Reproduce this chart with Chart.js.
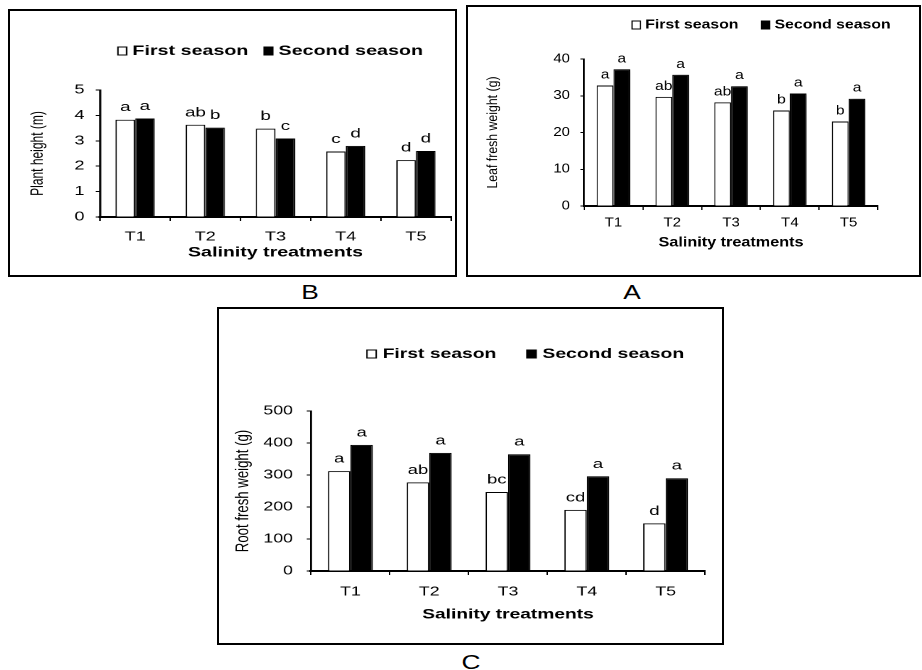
<!DOCTYPE html>
<html>
<head>
<meta charset="utf-8">
<script src="https://cdn.jsdelivr.net/npm/chart.js@4.4.1/dist/chart.umd.min.js"></script>
<style>
  body { margin: 0; background: #fff; width: 922px; height: 670px; position: relative; overflow: hidden; font-family: "Liberation Sans", Arial, sans-serif; }
  .frame { position: absolute; border: 2px solid #000; box-sizing: border-box; }
  .stretch { position: absolute; transform-origin: 0 0; }
  .tag { position: absolute; font-size: 21px; line-height: 1; transform: translateX(-50%) scaleX(1.25); }
</style>
</head>
<body>
<div class="frame" style="left:8px;top:9px;width:449px;height:268px"></div>
<div class="frame" style="left:466px;top:5px;width:455px;height:272px"></div>
<div class="frame" style="left:217px;top:307px;width:507px;height:338px"></div>

<div class="stretch" style="left:8px;top:9px;transform:scaleX(1.4484)"><canvas id="chartB" width="310" height="268"></canvas></div>
<div class="stretch" style="left:466px;top:5px;transform:scaleX(1.2005)"><canvas id="chartA" width="379" height="272"></canvas></div>
<div class="stretch" style="left:217px;top:307px;transform:scaleX(1.4202)"><canvas id="chartC" width="357" height="338"></canvas></div>

<div class="tag" style="left:310px;top:281px">B</div>
<div class="tag" style="left:632px;top:281px">A</div>
<div class="tag" style="left:471px;top:651px">C</div>

<script>
const treatments = ['T1', 'T2', 'T3', 'T4', 'T5']
const seasons = ['First season', 'Second season']

// B - plant height (m)
const heightFirst = [3.83, 3.63, 3.48, 2.58, 2.24]
const heightSecond = [3.88, 3.52, 3.09, 2.80, 2.60]
const heightLettersFirst = ['a', 'ab', 'b', 'c', 'd']
const heightLettersSecond = ['a', 'b', 'c', 'd', 'd']

// A - leaf fresh weight (g)
const leafFirst = [32.8, 29.7, 28.2, 26.0, 23.0]
const leafSecond = [37.2, 35.7, 32.6, 30.6, 29.2]
const leafLettersFirst = ['a', 'ab', 'ab', 'b', 'b']
const leafLettersSecond = ['a', 'a', 'a', 'a', 'a']

// C - root fresh weight (g)
const rootFirst = [312, 277, 247, 191, 149]
const rootSecond = [394, 369, 365, 296, 290]
const rootLettersFirst = ['a', 'ab', 'bc', 'cd', 'd']
const rootLettersSecond = ['a', 'a', 'a', 'a', 'a']

const family = '"Liberation Sans", Arial, sans-serif'

const seasonLegend = {
  id: 'seasonLegend',
  afterDraw(chart, args, o) {
    const ctx = chart.ctx
    const area = chart.chartArea
    let x = area.left + o.dx
    const y = area.top + o.dy
    ctx.save()
    ctx.font = `bold ${o.size}px ${family}`
    ctx.textBaseline = 'middle'
    ctx.textAlign = 'left'
    chart.data.datasets.forEach(ds => {
      ctx.fillStyle = ds.backgroundColor
      ctx.fillRect(x, y - o.boxH / 2, o.boxW, o.boxH)
      ctx.strokeStyle = '#000'
      ctx.lineWidth = 1
      ctx.strokeRect(x, y - o.boxH / 2, o.boxW, o.boxH)
      x += o.boxW + o.textGap
      ctx.fillStyle = '#000'
      ctx.fillText(ds.label, x, y)
      x += ctx.measureText(ds.label).width + o.itemGap
    })
    ctx.restore()
  }
}

// significance letters above each bar
const barLetters = {
  id: 'barLetters',
  afterDatasetsDraw(chart, args, o) {
    const ctx = chart.ctx
    ctx.save()
    ctx.font = `13px ${family}`
    ctx.fillStyle = '#000'
    ctx.textAlign = 'center'
    ctx.textBaseline = 'alphabetic'
    chart.data.datasets.forEach((ds, i) => {
      chart.getDatasetMeta(i).data.forEach((bar, j) => {
        ctx.fillText(ds.letters[j], bar.x, bar.y - o.gap)
      })
    })
    ctx.restore()
  }
}

const barShadow = {
  id: 'barShadow',
  beforeDatasetDraw(chart, args) {
    if (!chart.data.datasets[args.index].shadow) return
    const ctx = chart.ctx
    ctx.save()
    ctx.shadowColor = 'rgba(0,0,0,0.45)'
    ctx.shadowBlur = 6
    ctx.shadowOffsetX = 6
    ctx.shadowOffsetY = 0
  },
  afterDatasetDraw(chart, args) {
    if (chart.data.datasets[args.index].shadow) chart.ctx.restore()
  }
}

function panel(id, p) {
  return new Chart(document.getElementById(id), {
    type: 'bar',
    data: {
      labels: treatments,
      datasets: [
        { label: seasons[0], data: p.first, letters: p.lettersFirst, backgroundColor: '#fff', borderColor: '#000', borderWidth: 1 },
        { label: seasons[1], data: p.second, letters: p.lettersSecond, backgroundColor: '#000', borderColor: '#000', borderWidth: 1, shadow: p.shadow }
      ]
    },
    options: {
      responsive: false,
      animation: false,
      devicePixelRatio: 2,
      layout: { padding: { left: 0, top: p.top, right: p.right, bottom: 0 } },
      datasets: { bar: { categoryPercentage: p.group, barPercentage: 1 } },
      plugins: {
        legend: { display: false },
        tooltip: { enabled: false },
        seasonLegend: p.legend,
        barLetters: { gap: p.gap }
      },
      scales: {
        x: {
          afterFit: s => { s.height = p.xHeight },
          grid: { drawOnChartArea: false, tickLength: 4, color: '#000', lineWidth: 1 },
          border: { color: '#000', width: 2 },
          ticks: { color: '#000', font: { size: 12.5, family }, padding: p.xPad },
          title: {
            display: true, text: 'Salinity treatments', color: '#000',
            font: { size: 13.5, weight: 'bold', family },
            padding: { top: 0, bottom: p.xTitlePad }
          }
        },
        y: {
          min: 0,
          max: p.max,
          afterFit: s => { s.width = p.yWidth },
          grid: { drawOnChartArea: false, tickLength: 3, color: '#000', lineWidth: 1 },
          border: { color: '#000', width: 1.4 },
          ticks: { stepSize: p.step, color: '#000', font: { size: 12.5, family }, padding: p.yPad },
          title: {
            display: true, text: p.yTitle, color: '#000',
            font: { size: p.yTitleSize, family },
            padding: { top: p.yTitlePad, bottom: 0 }
          }
        }
      }
    },
    plugins: [seasonLegend, barLetters, barShadow]
  })
}

panel('chartB', {
  first: heightFirst, second: heightSecond,
  lettersFirst: heightLettersFirst, lettersSecond: heightLettersSecond,
  max: 5, step: 1, yTitle: 'Plant height (m)', yTitleSize: 12,
  top: 81, right: 4.1, yWidth: 63.5, xHeight: 60,
  xPad: 8.5, xTitlePad: 15.9, yPad: 7.7, yTitlePad: 13.5,
  group: 0.56, gap: 8.5,
  legend: { size: 13.6, dx: 12.4, dy: -39, boxW: 6, boxH: 8, textGap: 4, itemGap: 10.8 }
})

panel('chartA', {
  first: leafFirst, second: leafSecond,
  lettersFirst: leafLettersFirst, lettersSecond: leafLettersSecond,
  max: 40, step: 10, yTitle: 'Leaf fresh weight (g)', yTitleSize: 12.3,
  top: 54, right: 35.8, yWidth: 98.3, xHeight: 71,
  xPad: 5.5, xTitlePad: 25.9, yPad: 8.7, yTitlePad: 15.1,
  group: 0.57, gap: 7, shadow: true,
  legend: { size: 13.2, dx: 40, dy: -34, boxW: 7, boxH: 8, textGap: 4, itemGap: 19 }
})

panel('chartC', {
  first: rootFirst, second: rootSecond,
  lettersFirst: rootLettersFirst, lettersSecond: rootLettersSecond,
  max: 500, step: 100, yTitle: 'Root fresh weight (g)', yTitleSize: 13.2,
  top: 104, right: 13.4, yWidth: 66.2, xHeight: 74,
  xPad: 9.5, xTitlePad: 21.9, yPad: 9.7, yTitlePad: 10.4,
  group: 0.57, gap: 8.5,
  legend: { size: 13.6, dx: 39.4, dy: -57, boxW: 6.5, boxH: 8, textGap: 4.5, itemGap: 21.5 }
})
</script>
</body>
</html>
